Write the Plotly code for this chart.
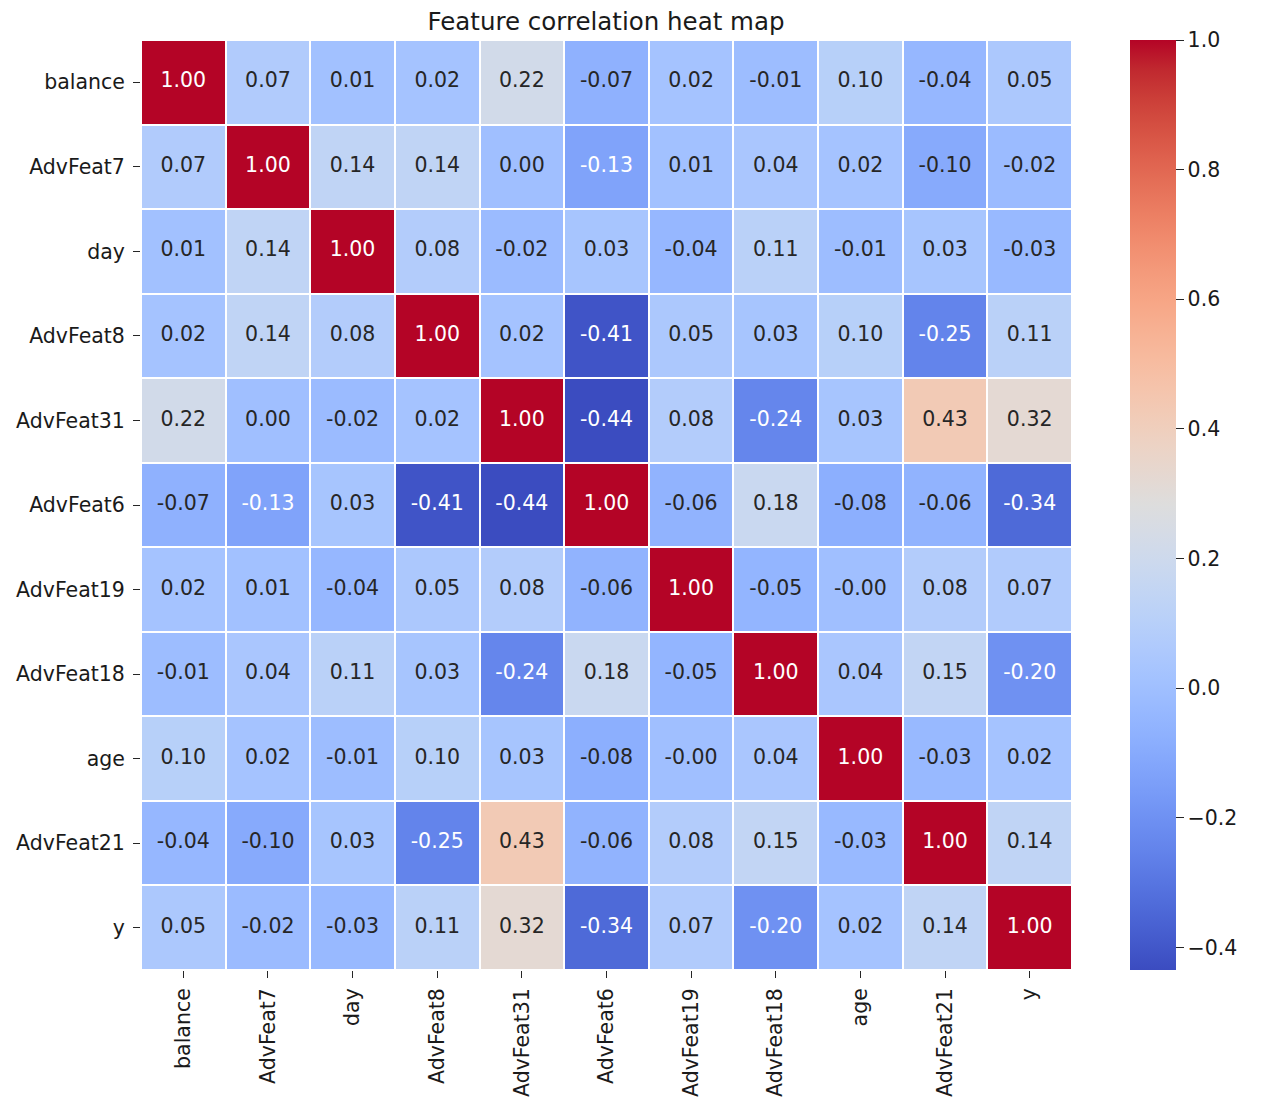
import plotly.graph_objects as go
import numpy as np

features = ["balance", "AdvFeat7", "day", "AdvFeat8", "AdvFeat31", "AdvFeat6",
            "AdvFeat19", "AdvFeat18", "age", "AdvFeat21", "y"]

corr = [
    [1.00, 0.07, 0.01, 0.02, 0.22, -0.07, 0.02, -0.01, 0.10, -0.04, 0.05],
    [0.07, 1.00, 0.14, 0.14, 0.00, -0.13, 0.01, 0.04, 0.02, -0.10, -0.02],
    [0.01, 0.14, 1.00, 0.08, -0.02, 0.03, -0.04, 0.11, -0.01, 0.03, -0.03],
    [0.02, 0.14, 0.08, 1.00, 0.02, -0.41, 0.05, 0.03, 0.10, -0.25, 0.11],
    [0.22, 0.00, -0.02, 0.02, 1.00, -0.44, 0.08, -0.24, 0.03, 0.43, 0.32],
    [-0.07, -0.13, 0.03, -0.41, -0.44, 1.00, -0.06, 0.18, -0.08, -0.06, -0.34],
    [0.02, 0.01, -0.04, 0.05, 0.08, -0.06, 1.00, -0.05, -0.00, 0.08, 0.07],
    [-0.01, 0.04, 0.11, 0.03, -0.24, 0.18, -0.05, 1.00, 0.04, 0.15, -0.20],
    [0.10, 0.02, -0.01, 0.10, 0.03, -0.08, -0.00, 0.04, 1.00, -0.03, 0.02],
    [-0.04, -0.10, 0.03, -0.25, 0.43, -0.06, 0.08, 0.15, -0.03, 1.00, 0.14],
    [0.05, -0.02, -0.03, 0.11, 0.32, -0.34, 0.07, -0.20, 0.02, 0.14, 1.00],
]

cbar_ticks = [1.0, 0.8, 0.6, 0.4, 0.2, 0.0, -0.2, -0.4]
ZMIN, ZMAX = -0.435, 1.0

coolwarm_rgb = [
    (59, 76, 192), (68, 90, 204), (77, 104, 215), (87, 117, 225), (98, 130, 234),
    (108, 142, 241), (119, 154, 247), (130, 165, 251), (141, 176, 254), (152, 185, 255),
    (163, 194, 255), (174, 201, 253), (184, 208, 249), (194, 213, 244), (204, 217, 238),
    (213, 219, 230), (221, 221, 221), (229, 216, 209), (236, 211, 197), (241, 204, 184),
    (245, 196, 172), (247, 187, 159), (247, 177, 147), (247, 166, 134), (244, 154, 123),
    (241, 141, 111), (236, 127, 99), (229, 112, 88), (222, 96, 77), (213, 80, 66),
    (203, 62, 56), (192, 40, 47), (180, 4, 38),
]
n = len(coolwarm_rgb)
stops = np.linspace(0, 1, n)
colorscale = [[float(s), "rgb(%d,%d,%d)" % c] for s, c in zip(stops, coolwarm_rgb)]
cw = np.array(coolwarm_rgb, dtype=float)


def color_of(v):
    t = min(max((v - ZMIN) / (ZMAX - ZMIN), 0), 1)
    return np.array([np.interp(t, stops, cw[:, k]) for k in range(3)])


def luminance(rgb):
    c = rgb / 255.0
    c = np.where(c <= 0.03928, c / 12.92, ((c + 0.055) / 1.055) ** 2.4)
    return 0.2126 * c[0] + 0.7152 * c[1] + 0.0722 * c[2]


FS = 20.5
# page has an 8px body margin; figure is sized to fit inside the 1280x1114 window
OFF = 8
W, H = 1280 - 2 * OFF, 1114 - 2 * OFF
PL, PR, PT, PB = 141 - OFF, 1072 - OFF, 40 - OFF, 970 - OFF

fig = go.Figure()
fig.add_trace(go.Heatmap(
    z=corr, x=features, y=features, colorscale=colorscale, zmin=ZMIN, zmax=ZMAX,
    xgap=2, ygap=2, hoverongaps=False,
    colorbar=dict(
        thickness=46, len=1.0, lenmode="fraction", x=(1130 - 141) / (1072 - 141), xanchor="left",
        xpad=0, ypad=0, y=0.5, yanchor="middle",
        outlinewidth=0, tickvals=cbar_ticks, ticks="outside", ticklen=8,
        tickcolor="#262626", tickfont=dict(family="DejaVu Sans", size=FS, color="#1a1a1a"),
        tickformat=".1f",
    ),
))

dark_x, dark_y, dark_t, light_x, light_y, light_t = [], [], [], [], [], []
for i, row in enumerate(corr):
    for j, v in enumerate(row):
        txt = "%.2f" % v
        if luminance(color_of(v)) > 0.408:
            dark_x.append(features[j]); dark_y.append(features[i]); dark_t.append(txt)
        else:
            light_x.append(features[j]); light_y.append(features[i]); light_t.append(txt)

fig.add_trace(go.Scatter(x=dark_x, y=dark_y, text=dark_t, mode="text", hoverinfo="skip",
                         textfont=dict(family="DejaVu Sans", size=FS, color="#262626"),
                         showlegend=False))
fig.add_trace(go.Scatter(x=light_x, y=light_y, text=light_t, mode="text", hoverinfo="skip",
                         textfont=dict(family="DejaVu Sans", size=FS, color="white"),
                         showlegend=False))

fig.update_layout(
    width=W, height=H,
    margin=dict(l=PL, r=W - PR, t=PT, b=H - PB, autoexpand=False),
    paper_bgcolor="white", plot_bgcolor="white",
    font=dict(family="DejaVu Sans", color="#1a1a1a"),
    title=dict(text="Feature correlation heat map", x=(606 - OFF) / W, xanchor="center",
               y=1 - (21 - OFF) / H, yanchor="middle", yref="container",
               font=dict(family="DejaVu Sans", size=24.5, color="#1a1a1a")),
    xaxis=dict(type="category", tickangle=-90, ticks="outside", ticklen=7,
               tickcolor="#262626", showgrid=False, zeroline=False, showline=False,
               tickfont=dict(size=FS), ticklabelstandoff=2, automargin=False,
               range=[-0.5, 10.5]),
    yaxis=dict(type="category", ticks="outside", ticklen=7,
               tickcolor="#262626", showgrid=False, zeroline=False, showline=False,
               tickfont=dict(size=FS), ticklabelstandoff=4, automargin=False,
               range=[10.5, -0.5]),
)

fig.write_html("out.html")
